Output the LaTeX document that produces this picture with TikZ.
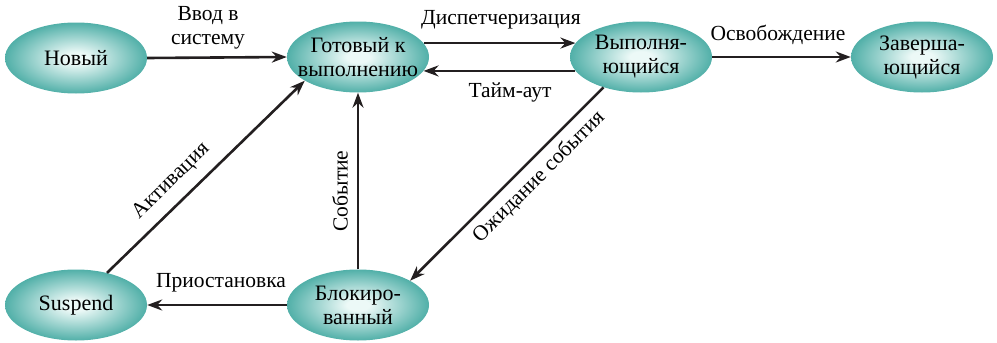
\documentclass[tikz,border=0pt]{standalone}
\usepackage{fontspec}
\setmainfont{Liberation Serif}
\newfontfamily\tnr{Liberation Serif}
\usetikzlibrary{shapes.geometric,arrows.meta}
\definecolor{cin}{RGB}{236,249,247}
\definecolor{cout}{RGB}{0,137,127}
\definecolor{lncol}{RGB}{35,31,32}
\pgfdeclareradialshading{stshade}{\pgfpoint{0bp}{0bp}}{color(0bp)=(cin); color(4bp)=(cin); color(36bp)=(cout); color(50bp)=(cout)}
\begin{document}
\begin{tikzpicture}[x=1pt,y=-1pt,
  st/.style={ellipse, minimum width=142pt, minimum height=71pt, inner xsep=-16pt, inner ysep=0pt,
    shading=stshade, align=center, font=\tnr\fontsize{22}{24}\selectfont},
  lbl/.style={align=center, inner sep=0pt, font=\tnr\fontsize{21.5}{23.5}\selectfont},
  arr/.style={line width=2.6pt, draw=lncol, -{Stealth[length=15pt,width=11pt]}}]
\path[use as bounding box] (0,0) rectangle (997,343);
\node[st] (n) at (76,58) {Новый};
\node[st] (g) at (358,57) {Готовый к\\выполнению};
\node[st] (v) at (641,57) {Выполня-\\ющийся};
\node[st] (z) at (922,57) {Заверша-\\ющийся};
\node[st] (s) at (76,305) {Suspend};
\node[st] (b) at (358,305) {Блокиро-\\ванный};

\draw[arr] (n.east) -- (g.west);
\draw[arr] (g.12) -- (v.168);
\draw[arr] (v.192) -- (g.-12);
\draw[arr] (v.east) -- (z.west);
\draw[arr] (v.219) -- (b.25);
\draw[arr] (b.north) -- (g.south);
\draw[arr] (b.west) -- (s.east);
\draw[arr] (s.46) -- (g.204);

\node[lbl] (l1) at (208,28) {Ввод в\\систему};
\node[lbl] (l2) at (501,20) {Диспетчеризация};
\node[lbl] (l3) at (510,92) {Тайм-аут};
\node[lbl] (l4) at (778,35) {Освобождение};
\node[lbl] (l5) at (221,283) {Приостановка};
\node[lbl, rotate=90] (l6) at (340,191) {Событие};
\node[lbl, rotate=45] (l7) at (539,177) {Ожидание события};
\node[lbl, rotate=44.4] (l8) at (171,181) {Активация};
\end{tikzpicture}
\end{document}
